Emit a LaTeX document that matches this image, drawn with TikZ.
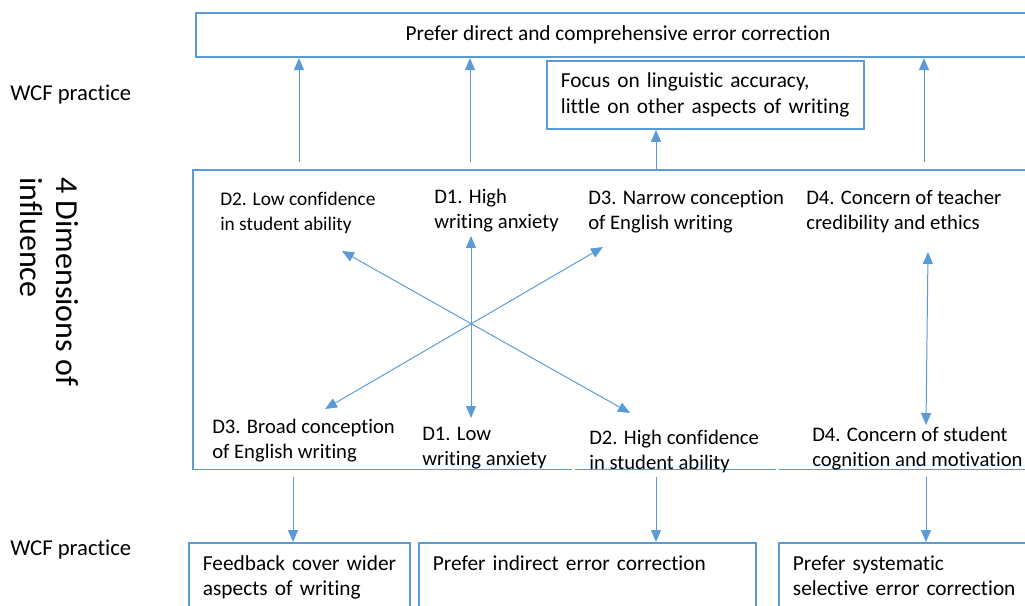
\documentclass[tikz,border=0pt]{standalone}
\usepackage{fontspec}
\setmainfont{Carlito}[Ligatures=NoCommon]
\usetikzlibrary{arrows.meta}
\definecolor{wcfblue}{RGB}{91,155,213}
\tikzset{
  box/.style={draw=wcfblue, line width=1.4pt, inner xsep=10.5pt, inner ysep=9.75pt, align=left, font=\fontsize{16}{18.8}\selectfont},
  lbl/.style={inner sep=0pt, align=left, anchor=north west, font=\fontsize{15.5}{18.6}\selectfont},
  side/.style={inner sep=0pt, anchor=west, font=\fontsize{17}{20}\selectfont},
  arr/.style={draw=wcfblue, line width=0.75pt, -{Triangle[length=9pt,width=7.5pt]}},
  darr/.style={arr, {Triangle[length=9pt,width=7.5pt]}-{Triangle[length=9pt,width=7.5pt]}},
}
\begin{document}
\begin{tikzpicture}[x=0.75pt,y=-0.75pt]
    \useasboundingbox (0,0) rectangle (1025,606);
    \clip (0,0) rectangle (1025,606);

    \node[box, anchor=north west, minimum width=633pt, minimum height=29.25pt, align=center] (pref) at (195,12) {Prefer direct and comprehensive error correction};
    \node[box, anchor=north west, text width=216.75pt, minimum height=51pt, inner ysep=7pt] (focus) at (546,60) {Focus on linguistic accuracy,\\little on other aspects of writing};

    \node[minimum width=635.25pt, minimum height=224.25pt, anchor=north west, inner sep=0pt] (dims) at (193,170) {};
    \draw[wcfblue, line width=1.4pt] (dims.south west) -- (dims.north west) -- (dims.north east) -- (dims.south east)
        -- (dims.south -| 779,0) (dims.south -| 776,0) -- (dims.south -| 575,0) (dims.south -| 572,0) -- (dims.south west);

    \node[box, anchor=north west, text width=144.75pt] (fb) at (188,542) {\mbox{Feedback cover wider}\\aspects of writing};
    \node[box, anchor=north west, text width=231.75pt, text depth=40pt] (ind) at (418,542) {Prefer indirect error correction};
    \node[box, anchor=north west, text width=200pt] (sys) at (778,542) {Prefer systematic\\selective error correction};

    \node[side] (wcfup) at (10,95) {WCF practice};
    \node[side] (wcfdn) at (10,550) {WCF practice};
    \node[rotate=-90, anchor=north west, inner sep=0pt, align=left, font=\fontsize{24}{27}\selectfont] (dimlab) at (79,177) {4 Dimensions of\\influence};

    \node[lbl, font=\fontsize{14.5}{18.6}\selectfont] (d2lo) at (220,192) {D2. Low confidence\\in student ability};
    \node[lbl] (d1hi) at (434,189) {D1. High\\writing anxiety};
    \node[lbl] (d3na) at (588,190) {D3. Narrow conception\\of English writing};
    \node[lbl] (d4te) at (806,190) {D4. Concern of teacher\\credibility and ethics};
    \node[lbl] (d3br) at (212,419) {D3. Broad conception\\of English writing};
    \node[lbl] (d1lo) at (422,427) {D1. Low\\writing anxiety};
    \node[lbl] (d2hi) at (589,430) {D2. High confidence\\in student ability};
    \node[lbl] (d4st) at (812,427) {D4. Concern of student\\cognition and motivation};

    \coordinate (ul) at (342,251);
    \coordinate (lr) at (630,413);
    \coordinate (ur) at (603,247);
    \coordinate (ll) at (325,409);
    \coordinate (vt) at (471,236);
    \coordinate (vb) at (471,418);
    \coordinate (d4t) at (928,252);
    \coordinate (d4b) at (926,425);
    \draw[darr] (ul) -- (lr);
    \draw[darr] (ur) -- (ll);
    \draw[darr] (vt) -- (vb);
    \draw[darr] (d4t) -- (d4b);

    \foreach \x [count=\i] in {299,470,924}
        \coordinate (up\i) at (\x,162);
    \foreach \i in {1,2,3}
        \draw[arr] (up\i) -- (pref.south -| up\i);
    \coordinate (up4) at (656,170);
    \draw[arr] (up4) -- (focus.south -| up4);

    \coordinate (dn1) at (293,477);
    \coordinate (dn2) at (656,477);
    \coordinate (dn3) at (926,477);
    \draw[arr] (dn1) -- (fb.north -| dn1);
    \draw[arr] (dn2) -- (ind.north -| dn2);
    \draw[arr] (dn3) -- (sys.north -| dn3);
\end{tikzpicture}
\end{document}
